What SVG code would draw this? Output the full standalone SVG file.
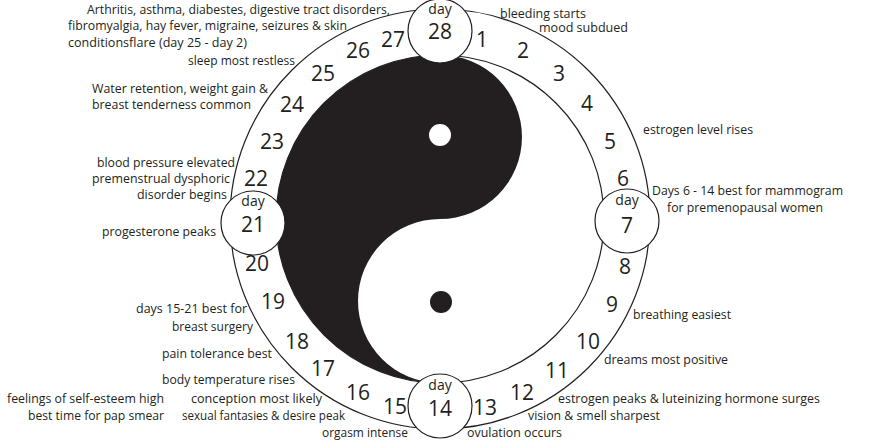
<svg xmlns="http://www.w3.org/2000/svg" width="880" height="440" viewBox="0 0 880 440">
<style>
  .ring { fill: none; stroke: #231f20; stroke-width: 1.2; }
  .day { fill: #ffffff; stroke: #231f20; stroke-width: 1.2; }
  .num { font-family: "Open Sans", "Noto Sans", sans-serif; font-size: 21px; fill: #231f20; text-anchor: middle; }
  .dlab { font-family: "Open Sans", "Noto Sans", sans-serif; font-size: 14px; fill: #231f20; text-anchor: middle; }
  .lab { font-family: "Open Sans", "Noto Sans", sans-serif; font-size: 12.5px; fill: #231f20; }
</style>
<rect width="880" height="440" fill="#ffffff"/>

<g id="wheel">
  <circle class="ring" cx="440" cy="219" r="210"/>
  <circle class="ring" cx="440" cy="219" r="164"/>
  <path id="yin" fill="#231f20" d="M440,55 A164,164 0 0 0 440,383 A82,82 0 0 1 440,219 A82,82 0 0 0 440,55 Z"/>
  <circle cx="440" cy="135" r="11" fill="#ffffff"/>
  <circle cx="441" cy="302" r="11" fill="#231f20"/>
</g>

<g id="day-numbers">
  <text class="num" x="482" y="46.5">1</text>
  <text class="num" x="523" y="57.5">2</text>
  <text class="num" x="559" y="80.5">3</text>
  <text class="num" x="587" y="110.5">4</text>
  <text class="num" x="610" y="148.5">5</text>
  <text class="num" x="623" y="185.5">6</text>
  <text class="num" x="625" y="273.5">8</text>
  <text class="num" x="612" y="311.5">9</text>
  <text class="num" x="588" y="348.5">10</text>
  <text class="num" x="557" y="377.5">11</text>
  <text class="num" x="522" y="399.5">12</text>
  <text class="num" x="485" y="414.5">13</text>
  <text class="num" x="395" y="413.5">15</text>
  <text class="num" x="358" y="399.5">16</text>
  <text class="num" x="323" y="375.5">17</text>
  <text class="num" x="297" y="348.5">18</text>
  <text class="num" x="273" y="308.5">19</text>
  <text class="num" x="257" y="270.5">20</text>
  <text class="num" x="256" y="185.5">22</text>
  <text class="num" x="272" y="148.5">23</text>
  <text class="num" x="292" y="111.5">24</text>
  <text class="num" x="323" y="80.5">25</text>
  <text class="num" x="358" y="57.5">26</text>
  <text class="num" x="393" y="46.5">27</text>
</g>

<g id="day28">
  <circle class="day" cx="440" cy="31" r="32"/>
  <text class="dlab" x="440" y="14">day</text>
  <text class="num" x="440" y="38.5">28</text>
</g>
<g id="day7">
  <circle class="day" cx="627" cy="221" r="32"/>
  <text class="dlab" x="627" y="205">day</text>
  <text class="num" x="627" y="232.5">7</text>
</g>
<g id="day14">
  <circle class="day" cx="440" cy="406" r="32"/>
  <text class="dlab" x="440" y="390">day</text>
  <text class="num" x="440" y="415.5">14</text>
</g>
<g id="day21">
  <circle class="day" cx="253" cy="223" r="32"/>
  <text class="dlab" x="253" y="205.5">day</text>
  <text class="num" x="253" y="231.5">21</text>
</g>

<g id="labels">
  <text class="lab" x="87" y="13.5" textLength="303" lengthAdjust="spacingAndGlyphs">Arthritis, asthma, diabestes, digestive tract disorders,</text>
  <text class="lab" x="68" y="30" textLength="279" lengthAdjust="spacingAndGlyphs">fibromyalgia, hay fever, migraine, seizures &amp; skin</text>
  <text class="lab" x="68" y="47" textLength="179" lengthAdjust="spacingAndGlyphs">conditionsflare (day 25 - day 2)</text>
  <text class="lab" x="188" y="65" textLength="107" lengthAdjust="spacingAndGlyphs">sleep most restless</text>
  <text class="lab" x="92" y="93" textLength="176" lengthAdjust="spacingAndGlyphs">Water retention, weight gain &amp;</text>
  <text class="lab" x="92" y="109" textLength="159" lengthAdjust="spacingAndGlyphs">breast tenderness common</text>
  <text class="lab" x="500" y="18" textLength="86" lengthAdjust="spacingAndGlyphs">bleeding starts</text>
  <text class="lab" x="539" y="32" textLength="89" lengthAdjust="spacingAndGlyphs">mood subdued</text>
  <text class="lab" x="643" y="134" textLength="110" lengthAdjust="spacingAndGlyphs">estrogen level rises</text>
  <text class="lab" x="652" y="195" textLength="191" lengthAdjust="spacingAndGlyphs">Days 6 - 14 best for mammogram</text>
  <text class="lab" x="667" y="212" textLength="156" lengthAdjust="spacingAndGlyphs">for premenopausal women</text>
  <text class="lab" x="97" y="166.5" textLength="138" lengthAdjust="spacingAndGlyphs">blood pressure elevated</text>
  <text class="lab" x="92" y="182.5" textLength="138" lengthAdjust="spacingAndGlyphs">premenstrual dysphoric</text>
  <text class="lab" x="137" y="198.5" textLength="90" lengthAdjust="spacingAndGlyphs">disorder begins</text>
  <text class="lab" x="102" y="236" textLength="114" lengthAdjust="spacingAndGlyphs">progesterone peaks</text>
  <text class="lab" x="136" y="313" textLength="111" lengthAdjust="spacingAndGlyphs">days 15-21 best for</text>
  <text class="lab" x="172" y="331" textLength="81" lengthAdjust="spacingAndGlyphs">breast surgery</text>
  <text class="lab" x="162" y="358" textLength="110" lengthAdjust="spacingAndGlyphs">pain tolerance best</text>
  <text class="lab" x="162" y="384" textLength="133" lengthAdjust="spacingAndGlyphs">body temperature rises</text>
  <text class="lab" x="7" y="403" textLength="157" lengthAdjust="spacingAndGlyphs">feelings of self-esteem high</text>
  <text class="lab" x="28" y="420" textLength="136" lengthAdjust="spacingAndGlyphs">best time for pap smear</text>
  <text class="lab" x="191" y="403" textLength="131" lengthAdjust="spacingAndGlyphs">conception most likely</text>
  <text class="lab" x="182" y="420" textLength="163" lengthAdjust="spacingAndGlyphs">sexual fantasies &amp; desire peak</text>
  <text class="lab" x="322" y="437" textLength="86" lengthAdjust="spacingAndGlyphs">orgasm intense</text>
  <text class="lab" x="633" y="319" textLength="98" lengthAdjust="spacingAndGlyphs">breathing easiest</text>
  <text class="lab" x="604" y="364" textLength="124" lengthAdjust="spacingAndGlyphs">dreams most positive</text>
  <text class="lab" x="558" y="403" textLength="262" lengthAdjust="spacingAndGlyphs">estrogen peaks &amp; luteinizing hormone surges</text>
  <text class="lab" x="528" y="420" textLength="132" lengthAdjust="spacingAndGlyphs">vision &amp; smell sharpest</text>
  <text class="lab" x="467" y="437" textLength="95" lengthAdjust="spacingAndGlyphs">ovulation occurs</text>
</g>
</svg>
